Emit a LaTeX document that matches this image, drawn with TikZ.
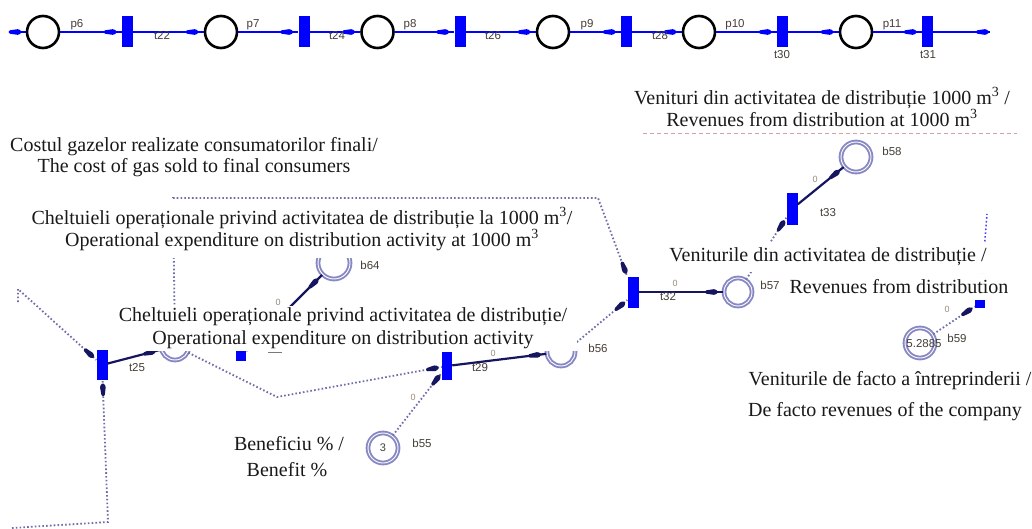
\documentclass[tikz,border=0pt]{standalone}
\usepackage{fontspec}
\setmainfont{Liberation Serif}
\newfontfamily\lblfont{Liberation Sans}
\usetikzlibrary{arrows.meta,decorations.markings,calc}

\definecolor{netblue}{RGB}{0,0,255}
\definecolor{arcnavy}{RGB}{22,22,96}
\definecolor{dotgray}{RGB}{110,110,170}
\definecolor{ringgray}{RGB}{135,135,195}
\definecolor{tagcol}{RGB}{70,62,55}
\definecolor{wcol}{RGB}{150,140,125}
\definecolor{sepcol}{RGB}{210,165,165}

\begin{document}
\begin{tikzpicture}[x=1pt,y=-1pt,
  place/.style={circle,draw=black,line width=2.6pt,minimum size=32pt,inner sep=0pt},
  trans/.style={rectangle,fill=netblue,minimum width=11pt,minimum height=31pt,inner sep=0pt},
  tsq/.style={rectangle,fill=netblue,minimum size=10pt,inner sep=0pt},
  bplace/.style={circle,draw=ringgray,line width=1.9pt,double=white,double distance=0.9pt,
    minimum size=#1,inner sep=0pt,font=\lblfont\fontsize{11}{11}\selectfont,text=tagcol},
  bplace/.default=29pt,
  tag/.style={font=\lblfont\fontsize{11.5}{12}\selectfont,text=tagcol,inner sep=0pt},
  wt/.style={font=\lblfont\fontsize{9}{9}\selectfont,text=wcol,inner sep=0pt},
  % elongated arc head, placed a little before the target border
  mk/.style 2 args={postaction={decorate},decoration={markings,
    mark=at position -#1 with {\fill[#2,rounded corners=1.2pt,solid]
      (0.5pt,0pt) -- (-3pt,3pt) -- (-13pt,1.5pt) -- (-13pt,-1.5pt) -- (-3pt,-3pt) -- cycle;}}},
  toparc/.style={draw=netblue,line width=1.5pt,mk={#1}{netblue}},
  toparc/.default=5pt,
  outarc/.style={draw=arcnavy,line width=2.2pt,mk={#1}{arcnavy}},
  outarc/.default=5pt,
  inarc/.style={draw=dotgray,line width=1.8pt,dash pattern=on 1.6pt off 2.2pt,mk={#1}{arcnavy}},
  inarc/.default=3pt,
  txt/.style={font=\fontsize{20}{21}\selectfont,align=center,inner sep=0pt,text=black!90},
  txtw/.style={txt,fill=white,inner xsep=6pt,inner ysep=4pt}
]
\useasboundingbox (0,0) rectangle (1032,529);
\fill[white] (0,0) rectangle (1032,529);

% ---------- upper chain ----------
\node[place] (p6)  at (43,32)    {};
\node[trans] (t22) at (127.5,32) {};
\node[place] (p7)  at (221,32)   {};
\node[trans] (t24) at (304,32)   {};
\node[place] (p8)  at (377.5,32) {};
\node[trans] (t26) at (460,32)   {};
\node[place] (p9)  at (553,32)   {};
\node[trans] (t28) at (626.5,32) {};
\node[place] (p10) at (699,32)   {};
\node[trans] (t30) at (782.5,32) {};
\node[place] (p11) at (856,32)   {};
\node[trans] (t31) at (927.5,32) {};
\coordinate (chainin)  at (14,32);
\coordinate (chainout) at (990,32);

\draw[toparc=4pt] (chainin) -- (p6);
\draw[toparc] (p6)  -- (t22);
\draw[toparc] (t22) -- (p7);
\draw[toparc] (p7)  -- (t24);
\draw[toparc] (t24) -- (p8);
\draw[toparc] (p8)  -- (t26);
\draw[toparc] (t26) -- (p9);
\draw[toparc] (p9)  -- (t28);
\draw[toparc] (t28) -- (p10);
\draw[toparc] (p10) -- (t30);
\draw[toparc] (t30) -- (p11);
\draw[toparc] (p11) -- (t31);
\draw[toparc=1pt] (t31) -- (chainout);

\node[tag] (lp6)  at (77,25)  {p6};
\node[tag] (lt22) at (162,36) {t22};
\node[tag] (lp7)  at (253,25) {p7};
\node[tag] (lt24) at (337,36) {t24};
\node[tag] (lp8)  at (410,25) {p8};
\node[tag] (lt26) at (493,36) {t26};
\node[tag] (lp9)  at (587,25) {p9};
\node[tag] (lt28) at (660,36) {t28};
\node[tag] (lp10) at (735,25) {p10};
\node[tag] (lt30) at (782,55) {t30};
\node[tag] (lp11) at (892,25) {p11};
\node[tag] (lt31) at (928,55) {t31};

% ---------- lower net ----------
\node[trans,minimum height=30pt] (t25) at (102,365) {};
\node[trans,minimum width=10pt,minimum height=28pt] (t29) at (447,366) {};
\node[trans] (t32) at (633,292) {};
\node[trans,minimum height=32pt] (t33) at (792,209) {};
\node[tsq] (t27) at (241,356) {};
\node[tsq,minimum height=9pt] (t34) at (980,303) {};

\node[bplace=28pt] (b63) at (175,346) {};
\node[bplace=32pt] (b64) at (334,263) {};
\node[bplace=28pt] (b56) at (561,352) {};
\node[bplace=30pt] (b55) at (383,448) {3};
\node[bplace=28pt] (b57) at (738,292) {};
\node[bplace=30pt] (b58) at (856,157) {};
\node[bplace=30pt] (b59) at (920,343) {};

\coordinate (fa) at (18,302);
\coordinate (fb) at (18,289);
\coordinate (fc) at (12,528);
\coordinate (fd) at (108,522);
\coordinate (up34) at (987,214);

% output arcs
\draw[outarc] (t25) -- (b63);
\draw[outarc] (t27) -- (b64);
\draw[outarc] (t29) -- (b56);
\draw[outarc] (t32) -- (b57);
\draw[outarc] (t33) -- (b58);

% input arcs
\draw[inarc] (fa) -- (fb) -- (t25);
\draw[inarc] (fc) -- (fd) -- (t25);
\draw[inarc] (b63) -- (277,397) -- (t29);
\draw[inarc] (b63) -- (173,198) -- (598,198) -- (t32);
\draw[inarc] (b56.30) -- ($(t32.west)+(0,8)$);
\draw[inarc] (b55) -- (t29);
\draw[inarc] (b57) -- (t33);
\draw[inarc] (b59) -- (t34);
\draw[draw=netblue!75,line width=1.5pt,dash pattern=on 1.6pt off 2.2pt] (t34) -- (up34);

\draw[sepcol,line width=0.8pt,dash pattern=on 4pt off 3pt] (643,133) -- (1017,133);

% ---------- texts ----------
\node[txt,font=\fontsize{20}{21}\selectfont] (costtxt) at (194,157)
  {Costul gazelor realizate consumatorilor finali/\\The cost of gas sold to final consumers};
\node[txtw,font=\fontsize{20}{22}\selectfont,inner ysep=7pt] (opexmtxt) at (302,229)
  {Cheltuieli operaționale privind activitatea de distribuție la 1000 m\textsuperscript{3}/\\
   Operational expenditure on distribution activity at 1000 m\textsuperscript{3}};
\node[txtw,font=\fontsize{20}{23}\selectfont,inner xsep=10pt,inner ysep=2pt] (opextxt) at (343,328.5)
  {Cheltuieli operaționale privind activitatea de distribuție/\\
   Operational expenditure on distribution activity};
\node[txt,font=\fontsize{20}{19}\selectfont] (revmtxt) at (822,107)
  {Venituri din activitatea de distribuție 1000 m\textsuperscript{3} /\\
   Revenues from distribution at 1000 m\textsuperscript{3}};
\node[txtw,minimum height=30pt] (revtxta) at (828,257) {Veniturile din activitatea de distribuție /};
\node[txtw,minimum height=26pt,inner xsep=4pt] (revtxtb) at (899,287) {Revenues from distribution};
\node[txt] (factotxta) at (890,381) {Veniturile de facto a întreprinderii /};
\node[txt] (factotxtb) at (885,412) {De facto revenues of the company};
\node[txt] (benefa) at (289,444) {Beneficiu \% /};
\node[txt] (benefb) at (287,470) {Benefit \%};

% ---------- net labels ----------
\node[tag] (lt25) at (137,368) {t25};
\node[tag] (lt29) at (480,368) {t29};
\node[tag] (lt32) at (668,297) {t32};
\node[tag] (lt33) at (828,213) {t33};
\node[tag] (lb64) at (370,265) {b64};
\node[tag] (lb56) at (598,348) {b56};
\node[tag] (lb55) at (422,443) {b55};
\node[tag] (lb57) at (770,285) {b57};
\node[tag] (lb58) at (892,151) {b58};
\node[tag] (lb59) at (957,338) {b59};
\node[tag] (mk59) at (924,344) {5.2885};
\draw[tagcol!70,line width=0.8pt] (268,352) -- (282,352);

\node[wt] (w32) at (675,283) {0};
\node[wt] (w29) at (493,353) {0};
\node[wt] (w55) at (413,397) {0};
\node[wt] (w64) at (278,302) {0};
\node[wt] (w33) at (815,179) {0};
\node[wt] (w59) at (947,309) {0};
\end{tikzpicture}
\end{document}
